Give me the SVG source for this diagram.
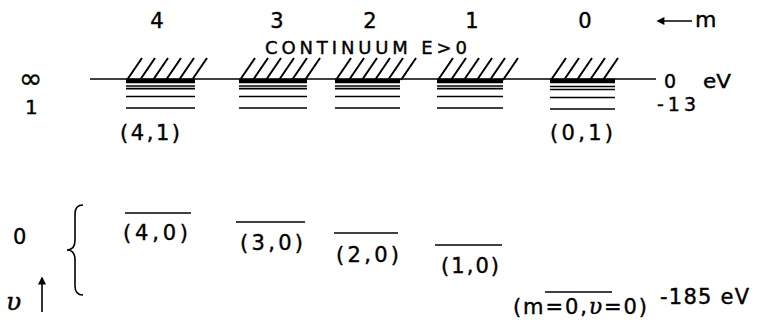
<svg xmlns="http://www.w3.org/2000/svg" width="760" height="326" viewBox="0 0 760 326">
<style>
text{font-family:"DejaVu Sans","Liberation Sans",sans-serif;fill:#000;stroke:#000;stroke-width:0.4}
.t{font-size:21px}
.g{font-family:"DejaVu Serif",serif;font-style:italic}
.h{stroke:#000;stroke-width:2;fill:none}
.l{stroke:#000;stroke-width:1.7;fill:none}
.bar{stroke:#000;stroke-width:4.5;fill:none}
.ax{stroke:#000;stroke-width:1.6;fill:none}
</style>
<defs>
<marker id="ah" viewBox="0 0 10 10" refX="8" refY="5" markerWidth="5.5" markerHeight="5" orient="auto">
<path d="M10,5 L0,0 L0,10 Z" fill="#000"/>
</marker>
</defs>
<rect width="760" height="326" fill="#fff"/>

<g id="mlabels" class="t">
<text x="157" y="28" text-anchor="middle">4</text>
<text x="277" y="28" text-anchor="middle">3</text>
<text x="370" y="28" text-anchor="middle">2</text>
<text x="472" y="28" text-anchor="middle">1</text>
<text x="585" y="28" text-anchor="middle">0</text>
<text x="695" y="27" font-size="22">m</text>
</g>
<text x="265" y="54" font-size="18" textLength="202" lengthAdjust="spacing">CONTINUUM E&gt;0</text>

<g id="connectors">
<line class="ax" x1="90" y1="79" x2="656" y2="79"/>
<line class="ax" x1="692" y1="21" x2="658" y2="21" marker-end="url(#ah)"/>
<line class="ax" x1="42" y1="312" x2="42" y2="278" marker-end="url(#ah)"/>
<path class="ax" d="M83,205 Q75,205 75,214 L75,240 Q75,250 67,250 Q75,250 75,260 L75,286 Q75,295 83,295"/>
</g>

<text x="19" y="88" font-size="28">∞</text>
<text x="25" y="114" font-size="20">1</text>
<text x="13" y="244" class="t">0</text>
<text x="6" y="310" class="g" font-size="25">υ</text>

<text x="664" y="88" font-size="19">0</text>
<text x="703" y="88" font-size="19" textLength="28" lengthAdjust="spacingAndGlyphs">eV</text>
<text x="657" y="111" font-size="19" textLength="39" lengthAdjust="spacing">-13</text>

<g id="band4">
<path class="h" d="M127,80 L142,58 M140,80 L155,58 M153,80 L168,58 M166,80 L181,58 M179,80 L194,58 M192,80 L207,58"/>
<line class="bar" x1="126" y1="81" x2="195" y2="81"/>
<path class="l" d="M126,86 H195 M126,88.7 H195 M126,96.5 H195 M126,108 H195"/>
<text x="120" y="140" class="t" textLength="60" lengthAdjust="spacing">(4,1)</text>
</g>
<g id="band3">
<path class="h" d="M240,80 L255,58 M253,80 L268,58 M266,80 L281,58 M279,80 L294,58 M292,80 L307,58 M305,80 L320,58"/>
<line class="bar" x1="239" y1="81" x2="307" y2="81"/>
<path class="l" d="M239,86 H307 M239,88.7 H307 M239,96.5 H307 M239,108 H307"/>
</g>
<g id="band2">
<path class="h" d="M336,80 L351,58 M349,80 L364,58 M362,80 L377,58 M375,80 L390,58 M388,80 L403,58 M401,80 L416,58"/>
<line class="bar" x1="335" y1="81" x2="400" y2="81"/>
<path class="l" d="M335,86 H400 M335,88.7 H400 M335,96.5 H400 M335,108 H400"/>
</g>
<g id="band1">
<path class="h" d="M438,80 L453,58 M451,80 L466,58 M464,80 L479,58 M477,80 L492,58 M490,80 L505,58 M503,80 L518,58"/>
<line class="bar" x1="437" y1="81" x2="503" y2="81"/>
<path class="l" d="M437,86 H503 M437,88.7 H503 M437,96.5 H503 M437,108 H503"/>
</g>
<g id="band0">
<path class="h" d="M551,80 L566,58 M564,80 L579,58 M577,80 L592,58 M590,80 L605,58 M603,80 L618,58"/>
<line class="bar" x1="550" y1="81" x2="615" y2="81"/>
<path class="l" d="M550,86.5 H615 M550,89.5 H615 M550,97.5 H615 M550,109 H615"/>
<text x="550" y="140" class="t" textLength="63" lengthAdjust="spacing">(0,1)</text>
</g>

<g id="level40">
<line class="l" x1="125" y1="213" x2="191" y2="213"/>
<text x="123" y="240" class="t" textLength="65" lengthAdjust="spacing">(4,0)</text>
</g>
<g id="level30">
<line class="l" x1="236" y1="222" x2="305" y2="222"/>
<text x="240" y="250" class="t" textLength="63" lengthAdjust="spacing">(3,0)</text>
</g>
<g id="level20">
<line class="l" x1="334" y1="233" x2="398" y2="233"/>
<text x="336" y="262" class="t" textLength="63" lengthAdjust="spacing">(2,0)</text>
</g>
<g id="level10">
<line class="l" x1="435" y1="245" x2="502" y2="245"/>
<text x="441" y="273" class="t" textLength="58" lengthAdjust="spacing">(1,0)</text>
</g>
<g id="level00">
<line class="l" x1="545" y1="292" x2="612" y2="292"/>
<text x="513" y="314" class="t" textLength="134" lengthAdjust="spacing">(m=0,<tspan class="g" font-size="22">υ</tspan>=0)</text>
<text x="660" y="304" class="t" textLength="89" lengthAdjust="spacing">-185 eV</text>
</g>
</svg>
